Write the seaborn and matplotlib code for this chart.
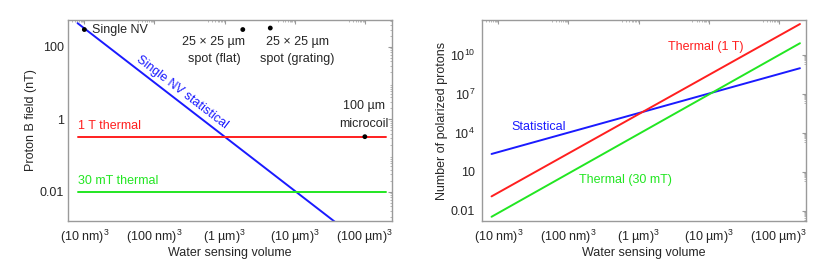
import numpy as np
import pandas as pd
import matplotlib
matplotlib.use("Agg")
import matplotlib.pyplot as plt
import seaborn as sns

# ---------------- data ----------------
vol_ends = [5.12e-7, 8e6]            # water volume in µm^3: (8 nm)^3 .. (200 µm)^3
# left panel: proton B field (nT)
b_statistical = [450, 1.2e-4]
b_thermal_1T = [0.33, 0.33]
b_thermal_30mT = [0.01, 0.01]
# experiment points (left panel)
pt_vol = [1e-6, 6.0, 90.0, 1e6]
pt_b = [300, 300, 330, 0.33]
# right panel: number of polarized protons
n_statistical = [243, 9.6e8]
n_thermal_1T = [0.133, 2.4e12]
n_thermal_30mT = [0.0036, 8e10]

xtick_vals = [1e-6, 1e-3, 1, 1e3, 1e6]
xtick_labels = ["(10 nm)$^3$", "(100 nm)$^3$", "(1 µm)$^3$", "(10 µm)$^3$", "(100 µm)$^3$"]
ytick_left = [0.01, 1, 100]
ytick_left_labels = ["0.01", "1", "100"]
ytick_right = [0.01, 10, 1e4, 1e7, 1e10]
ytick_right_labels = ["0.01", "10", "$10^4$", "$10^7$", "$10^{10}$"]

RED = "#ff1f1f"
GREEN = "#22e622"
BLUE = "#1a1aff"
FRAME = "#9a9a9a"

sns.set_style("white")
plt.rcParams["font.family"] = ["Liberation Sans", "DejaVu Sans"]
plt.rcParams["mathtext.default"] = "regular"
plt.rcParams["font.size"] = 9

fig = plt.figure(figsize=(8.3, 2.63), dpi=100)
W, H = 830, 263
axL = fig.add_axes([68 / W, (H - 221) / H, (392 - 68) / W, (221 - 20) / H])
axR = fig.add_axes([482 / W, (H - 221) / H, (806 - 482) / W, (221 - 20) / H])

dfL = pd.DataFrame({
    "vol": vol_ends * 3,
    "val": b_statistical + b_thermal_1T + b_thermal_30mT,
    "series": ["stat"] * 2 + ["1T"] * 2 + ["30mT"] * 2,
})
dfR = pd.DataFrame({
    "vol": vol_ends * 3,
    "val": n_statistical + n_thermal_1T + n_thermal_30mT,
    "series": ["stat"] * 2 + ["1T"] * 2 + ["30mT"] * 2,
})
pal = {"stat": BLUE, "1T": RED, "30mT": GREEN}

for ax, df in [(axL, dfL), (axR, dfR)]:
    sns.lineplot(data=df, x="vol", y="val", hue="series", palette=pal,
                 ax=ax, legend=False, linewidth=1.4, estimator=None, sort=False)

pts = pd.DataFrame({"vol": pt_vol, "val": pt_b})
sns.scatterplot(data=pts, x="vol", y="val", ax=axL, color="black", s=12,
                edgecolor="none", zorder=5, clip_on=False)

minor_x = [m * v / 10 for v in xtick_vals for m in range(2, 10)]
for ax in (axL, axR):
    ax.set_xscale("log")
    ax.set_yscale("log")
    ax.set_xlim(2.7e-7, 1.45e7)
    ax.set_xticks(xtick_vals)
    ax.set_xticklabels(xtick_labels)
    ax.set_xticks(minor_x, minor=True)
    ax.set_xlabel("Water sensing volume", fontsize=9)
    ax.xaxis.set_label_coords(0.5, -0.128)
    for s in ax.spines.values():
        s.set_color(FRAME)
        s.set_linewidth(1.0)
    ax.tick_params(which="major", direction="in", length=3, width=0.8, color=FRAME,
                   top=True, right=True, labelsize=9)
    ax.tick_params(which="minor", direction="in", length=1.5, width=0.5, color=FRAME,
                   top=True, right=True)
    ax.tick_params(axis="x", which="major", pad=5.2)

axL.tick_params(axis="y", which="major", pad=2.9)
axR.tick_params(axis="y", which="major", pad=5.0)

axL.set_yticks(ytick_left)
axL.set_yticklabels(ytick_left_labels)
axL.set_yticks([m * 10.0 ** k for k in range(-3, 3) for m in range(2, 10)], minor=True)
axL.set_ylim(0.00155, 550)
axL.set_ylabel("Proton B field (nT)", fontsize=9)
axL.yaxis.set_label_coords(-0.097, 0.5)

axR.set_yticks(ytick_right)
axR.set_yticklabels(ytick_right_labels)
axR.set_yticks([m * v / 10 for v in ytick_right for m in range(2, 10)], minor=True)
axR.set_ylim(0.0017, 4.9e12)
axR.set_ylabel("Number of polarized protons", fontsize=9)
axR.yaxis.set_label_coords(-0.104, 0.5)

# ---- left annotations ----
axL.text(2.2e-6, 300, "Single NV", ha="left", va="center", fontsize=9)
axL.text(0.35, 80, "25 × 25 µm\nspot (flat)", ha="center", va="center",
         fontsize=9, linespacing=1.6)
axL.text(1290, 80, "25 × 25 µm\nspot (grating)", ha="center", va="center",
         fontsize=9, linespacing=1.6)
axL.text(9.1e5, 1.3, "100 µm\nmicrocoil", ha="center", va="center",
         fontsize=9, linespacing=1.6)
axL.text(5.2e-7, 0.65, "1 T thermal", ha="left", va="center", fontsize=9, color=RED)
axL.text(5.2e-7, 0.0197, "30 mT thermal", ha="left", va="center", fontsize=9, color=GREEN)
axL.text(0.0146, 5.7, "Single NV statistical", ha="center", va="center",
         rotation=-37.5, rotation_mode="anchor", fontsize=9, color=BLUE)

# ---- right annotations ----
axR.text(780, 4.0e10, "Thermal (1 T)", ha="center", va="center", fontsize=9, color=RED)
axR.text(3.5e-6, 2.8e4, "Statistical", ha="left", va="center", fontsize=9, color=BLUE)
axR.text(2.9e-3, 2.6, "Thermal (30 mT)", ha="left", va="center", fontsize=9, color=GREEN)

fig.savefig("out.png", dpi=100)
